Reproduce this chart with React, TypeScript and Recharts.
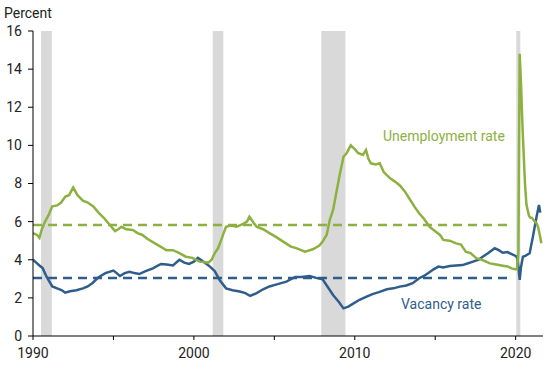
import React from 'react';
import { LineChart, Line, XAxis, YAxis, ReferenceArea, ReferenceLine } from 'recharts';

const GREEN = '#8db140';
const BLUE = '#2f5d8c';

// unemployment rate (year, percent)
const unempYears = [
  1990.0, 1990.25, 1990.4, 1990.55, 1990.75, 1991.0, 1991.2, 1991.5, 1991.75, 1992.0, 1992.25, 1992.5, 1992.75,
  1993.1, 1993.4, 1993.75, 1994.1, 1994.4, 1994.7, 1995.1, 1995.3, 1995.5, 1995.8, 1996.2, 1996.5, 1996.8,
  1997.1, 1997.5, 1997.9, 1998.3, 1998.7, 1999.1, 1999.5, 1999.9, 2000.35, 2000.9, 2001.1, 2001.3, 2001.5,
  2001.7, 2001.85, 2002.0, 2002.3, 2002.65, 2003.1, 2003.3, 2003.45, 2003.7, 2003.9, 2004.3, 2004.7, 2005.1,
  2005.55, 2006.0, 2006.4, 2006.9, 2007.4, 2007.8, 2008.0, 2008.25, 2008.45, 2008.65, 2008.85, 2009.05, 2009.3,
  2009.5, 2009.75, 2010.0, 2010.2, 2010.5, 2010.7, 2010.85, 2011.0, 2011.3, 2011.55, 2011.8, 2012.2, 2012.5,
  2012.8, 2013.1, 2013.4, 2013.7, 2014.0, 2014.3, 2014.65, 2015.0, 2015.3, 2015.5, 2015.9, 2016.3, 2016.6,
  2016.9, 2017.2, 2017.55, 2017.9, 2018.4, 2018.8, 2019.2, 2019.5, 2019.75, 2019.95, 2020.08, 2020.17, 2020.25,
  2020.33, 2020.42, 2020.5, 2020.58, 2020.67, 2020.75, 2020.83, 2020.92, 2021.0, 2021.1, 2021.2, 2021.3,
  2021.4, 2021.5, 2021.6,
];
const unempValues = [
  5.4, 5.3, 5.15, 5.6, 6.0, 6.4, 6.8, 6.85, 7.0, 7.3, 7.4, 7.8, 7.4,
  7.1, 7.0, 6.8, 6.45, 6.2, 5.9, 5.5, 5.6, 5.73, 5.6, 5.56, 5.4, 5.3,
  5.1, 4.9, 4.7, 4.5, 4.5, 4.35, 4.16, 4.1, 3.9, 3.85, 4.0, 4.35, 4.6,
  5.04, 5.4, 5.73, 5.8, 5.73, 5.9, 6.0, 6.26, 5.95, 5.73, 5.6, 5.4, 5.2,
  4.95, 4.7, 4.6, 4.42, 4.55, 4.75, 4.95, 5.3, 6.1, 6.6, 7.5, 8.4, 9.4,
  9.6, 10.0, 9.8, 9.6, 9.5, 9.76, 9.3, 9.06, 9.0, 9.06, 8.6, 8.27, 8.1,
  7.9, 7.6, 7.2, 6.8, 6.44, 6.15, 5.73, 5.5, 5.3, 5.04, 5.0, 4.86, 4.8,
  4.42, 4.35, 4.08, 4.0, 3.81, 3.75, 3.69, 3.65, 3.55, 3.5, 3.5, 4.4, 14.8,
  13.3, 11.1, 9.5, 8.0, 6.9, 6.6, 6.3, 6.2, 6.2, 6.1, 6.0, 5.9,
  5.7, 5.3, 4.86,
];

// vacancy rate
const vacYears = [
  1990.0, 1990.2, 1990.4, 1990.6, 1990.85, 1991.2, 1991.5, 1991.8, 1992.0, 1992.3, 1992.7, 1993.1, 1993.4,
  1993.7, 1994.1, 1994.5, 1995.0, 1995.2, 1995.4, 1995.7, 1996.0, 1996.3, 1996.6, 1997.0, 1997.45, 1997.95,
  1998.3, 1998.7, 1999.1, 1999.4, 1999.7, 2000.0, 2000.25, 2000.6, 2001.0, 2001.3, 2001.6, 2002.0, 2002.4,
  2002.85, 2003.2, 2003.5, 2003.9, 2004.3, 2004.7, 2005.15, 2005.75, 2006.3, 2006.7, 2007.2, 2007.6, 2008.0,
  2008.3, 2008.65, 2009.0, 2009.3, 2009.6, 2009.9, 2010.3, 2010.7, 2011.1, 2011.5, 2012.0, 2012.4, 2012.8,
  2013.2, 2013.6, 2014.0, 2014.3, 2014.55, 2014.9, 2015.2, 2015.5, 2015.9, 2016.3, 2016.7, 2017.0, 2017.35,
  2017.7, 2017.95, 2018.3, 2018.7, 2018.95, 2019.2, 2019.5, 2019.85, 2020.0, 2020.1, 2020.2, 2020.25, 2020.33,
  2020.45, 2020.6, 2020.87, 2021.07, 2021.3, 2021.45, 2021.53,
];
const vacValues = [
  4.0, 3.85, 3.7, 3.56, 3.1, 2.6, 2.5, 2.4, 2.27, 2.35, 2.4, 2.5, 2.6,
  2.78, 3.1, 3.3, 3.43, 3.3, 3.15, 3.3, 3.37, 3.3, 3.25, 3.4, 3.55, 3.78,
  3.75, 3.7, 4.0, 3.85, 3.78, 3.9, 4.1, 3.9, 3.64, 3.4, 2.94, 2.5, 2.4,
  2.33, 2.25, 2.1, 2.25, 2.45, 2.6, 2.71, 2.85, 3.1, 3.1, 3.15, 3.05, 2.97,
  2.6, 2.15, 1.8, 1.45, 1.54, 1.7, 1.9, 2.05, 2.2, 2.3, 2.45, 2.5, 2.59,
  2.65, 2.77, 3.03, 3.15, 3.29, 3.5, 3.64, 3.6, 3.67, 3.7, 3.72, 3.8, 3.9,
  4.0, 4.16, 4.35, 4.6, 4.5, 4.37, 4.4, 4.25, 4.2, 4.1, 3.4, 2.94, 3.6,
  4.16, 4.2, 4.34, 5.2, 6.26, 6.87, 6.47,
];

// recessions (start, end)
const recessionStarts = [1990.5, 2001.17, 2007.92, 2020.04];
const recessionEnds = [1991.17, 2001.83, 2009.42, 2020.29];

// averages drawn as dashed lines
const unempAverage = 5.82;
const vacAverage = 3.04;
const averageFrom = 1990;
const averageTo = 2019.65;

const xTicks = [1990, 1995, 2000, 2005, 2010, 2015, 2020];
const yTicks = [0, 2, 4, 6, 8, 10, 12, 14, 16];

const unempData = unempYears.map((x, i) => ({ x, value: unempValues[i] }));
const vacData = vacYears.map((x, i) => ({ x, value: vacValues[i] }));

const tickStyle = { fontSize: 14, fill: '#222', fontFamily: 'Roboto' };

const App: React.FC = () => {
  return (
    <div style={{ position: 'absolute', left: 0, top: 0, width: 550, height: 365, fontFamily: 'Roboto', background: '#fff' }}>
      <LineChart width={550} height={365} margin={{ top: 31, right: 7, left: 0, bottom: 0 }}>
        <XAxis
          dataKey="x"
          type="number"
          domain={[1990, 2021.7]}
          ticks={xTicks}
          allowDataOverflow
          tickFormatter={(v: number) => (v % 10 === 0 ? String(v) : '')}
          tick={tickStyle}
          tickSize={4}
          tickMargin={8}
          height={29}
          stroke="#000"
        />
        <YAxis
          type="number"
          domain={[0, 16]}
          ticks={yTicks}
          tick={tickStyle}
          tickSize={5}
          tickMargin={6}
          width={33}
          stroke="#000"
        />
        {recessionStarts.map((s, i) => (
          <ReferenceArea key={s} x1={s} x2={recessionEnds[i]} y1={0} y2={16} fill="#d9d9d9" fillOpacity={1} stroke="none" />
        ))}
        <ReferenceLine
          segment={[{ x: averageFrom, y: unempAverage }, { x: averageTo, y: unempAverage }]}
          stroke={GREEN}
          strokeWidth={2.5}
          strokeDasharray="9 6"
        />
        <ReferenceLine
          segment={[{ x: averageFrom, y: vacAverage }, { x: averageTo, y: vacAverage }]}
          stroke={BLUE}
          strokeWidth={2.5}
          strokeDasharray="9 6"
        />
        <Line data={vacData} dataKey="value" type="linear" stroke={BLUE} strokeWidth={2.5} dot={false} isAnimationActive={false} />
        <Line data={unempData} dataKey="value" type="linear" stroke={GREEN} strokeWidth={2.5} dot={false} isAnimationActive={false} />
      </LineChart>
      <div style={{ position: 'absolute', left: 4, top: 6, fontSize: 14, lineHeight: 1, color: '#222' }}>Percent</div>
      <div style={{ position: 'absolute', left: 383, top: 129, fontSize: 14, lineHeight: 1, color: GREEN }}>Unemployment rate</div>
      <div style={{ position: 'absolute', left: 401, top: 297, fontSize: 14, lineHeight: 1, color: BLUE }}>Vacancy rate</div>
    </div>
  );
};

export default App;
